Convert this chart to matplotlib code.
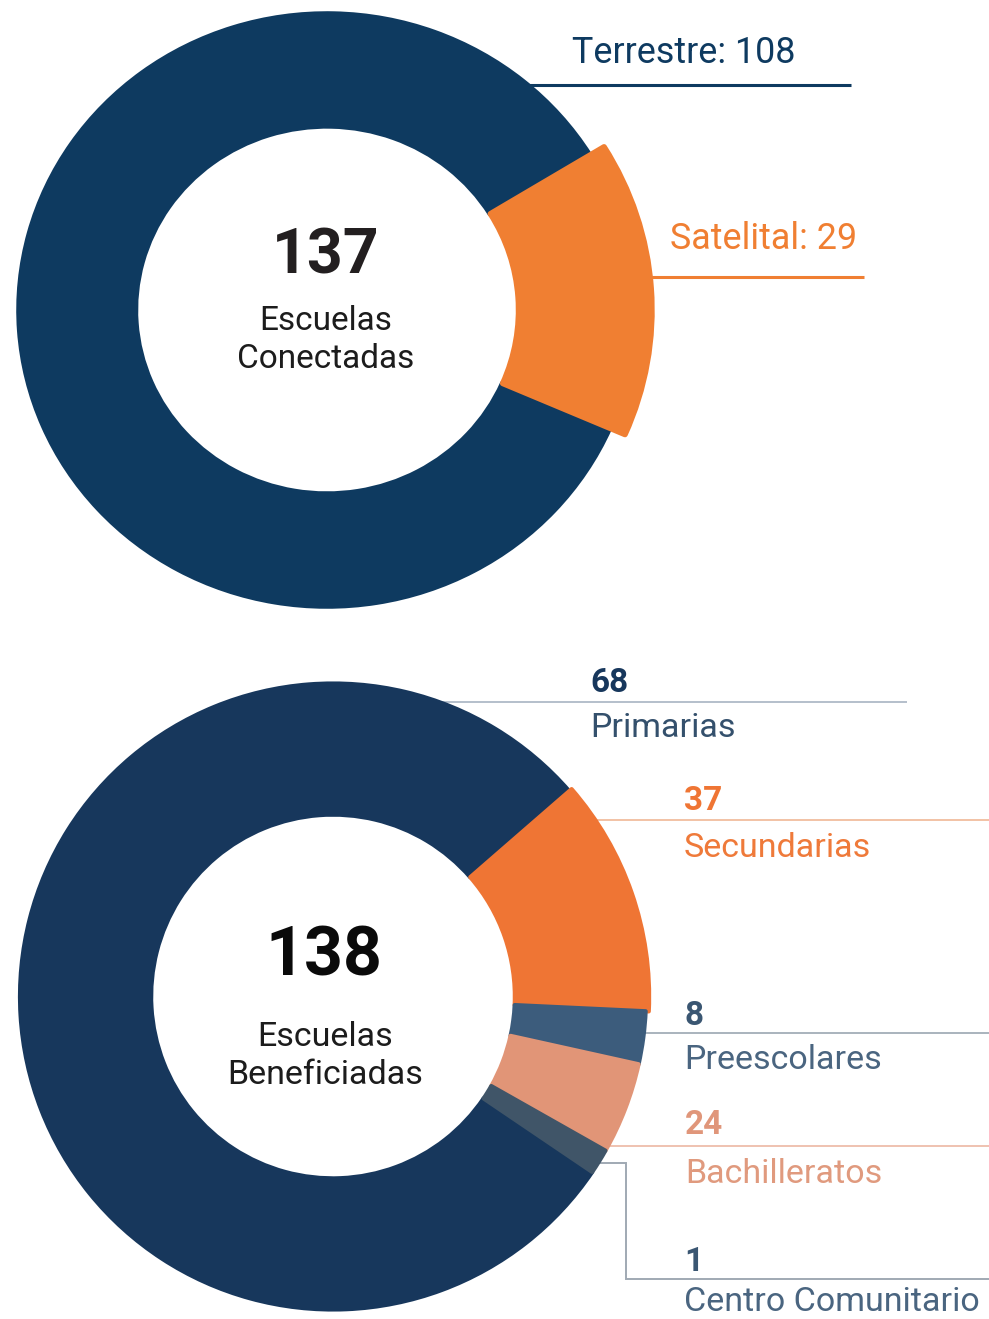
import matplotlib
matplotlib.use("Agg")
import matplotlib.pyplot as plt

plt.rcParams['font.family'] = ['Roboto', 'DejaVu Sans']

# ---------------- data ----------------
# Top chart: connection type
top_total = 137
top_title = ["Escuelas", "Conectadas"]
top_categories = ["Terrestre", "Satelital"]
top_counts = [108, 29]
# arc sizes (degrees) as drawn in the reference infographic
top_arc_deg = [305, 55]

# Bottom chart: school level
bot_total = 138
bot_title = ["Escuelas", "Beneficiadas"]
bot_categories = ["Primarias", "Secundarias", "Preescolares", "Bachilleratos", "Centro Comunitario"]
bot_counts = [68, 37, 8, 24, 1]
# arc sizes (degrees) as drawn in the reference infographic
bot_arc_deg = [284.9, 43.7, 9.8, 17.0, 4.6]

# ---------------- style ----------------
W, H = 989, 1319
top_colors = ["#0e3a60", "#f07f32"]
bot_colors = ["#17375c", "#ef7534", "#3c5c7c", "#e19577", "#405568"]
bot_value_colors = ["#17375c", "#ef7534", "#3a5672", "#e0967a", "#3a5672"]
bot_name_colors = ["#34506c", "#ef7a3a", "#4a6580", "#e09a7e", "#4a6580"]
bot_line_colors = ["#b4bfcb", "#f2c2a5", "#a9b3bd", "#efc2b0", "#a0a9b3"]

fig = plt.figure(figsize=(W / 100, H / 100), dpi=100)

# overlay (pixel coordinates), drawn beneath the donuts
ov = fig.add_axes([0, 0, 1, 1], zorder=0)
ov.set_xlim(0, W)
ov.set_ylim(H, 0)
ov.axis('off')


def donut_axes(cx, cy, sx, sy, half=1.15):
    w = 2 * half * sx
    h = 2 * half * sy
    left = cx - w / 2
    bottom = H - (cy + h / 2)
    ax = fig.add_axes([left / W, bottom / H, w / W, h / H], zorder=1)
    return ax, half


# ---------------- top donut ----------------
axt, half = donut_axes(327, 310, 308, 296)
wedges, _ = axt.pie(top_arc_deg, colors=top_colors, radius=1.0, startangle=31.5 + top_arc_deg[0],
                    counterclock=False,
                    wedgeprops=dict(width=0.378, linewidth=4, joinstyle='round'))
for wdg, c in zip(wedges, top_colors):
    wdg.set_edgecolor(c)
# satellite slice sticks out
wedges[1].set_radius(1.055)
wedges[1].set_width(1.055 - 0.622)
wedges[1].set_zorder(3)
axt.set_aspect('auto')
axt.set_xlim(-half, half)
axt.set_ylim(-half, half)
axt.axis('off')
axt.patch.set_visible(False)

# ---------------- bottom donut ----------------
axb, half = donut_axes(333, 996.5, 313, 313)
wedges_b, _ = axb.pie(bot_arc_deg, colors=bot_colors, radius=1.0, startangle=41 + bot_arc_deg[0],
                      counterclock=False,
                      wedgeprops=dict(width=0.419, linewidth=3, joinstyle='round'))
for i, (wdg, c) in enumerate(zip(wedges_b, bot_colors)):
    wdg.set_edgecolor(c)
    wdg.set_zorder(2 + i)
wedges_b[1].set_radius(1.01)
wedges_b[1].set_width(1.01 - 0.581)
axb.set_aspect('auto')
axb.set_xlim(-half, half)
axb.set_ylim(-half, half)
axb.axis('off')
axb.patch.set_visible(False)

# ---------------- center texts ----------------
ov.text(326, 274, f"{top_total}", ha='center', va='baseline', fontsize=45,
        fontweight='bold', color="#231f20")
ov.text(326, 330, top_title[0], ha='center', va='baseline', fontsize=24, color="#1c1c1c")
ov.text(326, 368, top_title[1], ha='center', va='baseline', fontsize=24, color="#1c1c1c")

ov.text(324, 975, f"{bot_total}", ha='center', va='baseline', fontsize=49,
        fontweight='bold', color="#0a0a0a")
ov.text(325, 1046, bot_title[0], ha='center', va='baseline', fontsize=24.5, color="#1c1c1c")
ov.text(325, 1084, bot_title[1], ha='center', va='baseline', fontsize=24.5, color="#1c1c1c")

# ---------------- top labels ----------------
ov.plot([450, 851], [85, 85], color=top_colors[0], lw=2.2, solid_capstyle='butt')
ov.text(572, 63, f"{top_categories[0]}: {top_counts[0]}", ha='left', va='baseline',
        fontsize=25.8, color=top_colors[0])
ov.plot([560, 864], [277, 277], color=top_colors[1], lw=2.2, solid_capstyle='butt')
ov.text(670, 249, f"{top_categories[1]}: {top_counts[1]}", ha='left', va='baseline',
        fontsize=25.8, color=top_colors[1])

# ---------------- bottom labels ----------------
label_x = [590, 684, 684, 685, 684]
value_y = [692, 810, 1025, 1134, 1271]
name_y = [737, 857, 1069, 1183, 1311]
line_y = [702, 820, 1033, 1146, 1279]
line_x0 = [400, 560, 560, 560, None]
line_x1 = [907, 989, 989, 989, 989]

for i in range(len(bot_categories)):
    if line_x0[i] is not None:
        ov.plot([line_x0[i], line_x1[i]], [line_y[i], line_y[i]], color=bot_line_colors[i],
                lw=1.4, solid_capstyle='butt')
    else:
        ov.plot([580, 626, 626, line_x1[i]], [1163, 1163, line_y[i], line_y[i]],
                color=bot_line_colors[i], lw=1.4, solid_joinstyle='miter')
    ov.text(label_x[i], value_y[i], f"{bot_counts[i]}", ha='left', va='baseline',
            fontsize=24, fontweight='bold', color=bot_value_colors[i])
    ov.text(label_x[i], name_y[i], bot_categories[i], ha='left', va='baseline',
            fontsize=24.5, color=bot_name_colors[i])

fig.savefig("out.png", dpi=100)
